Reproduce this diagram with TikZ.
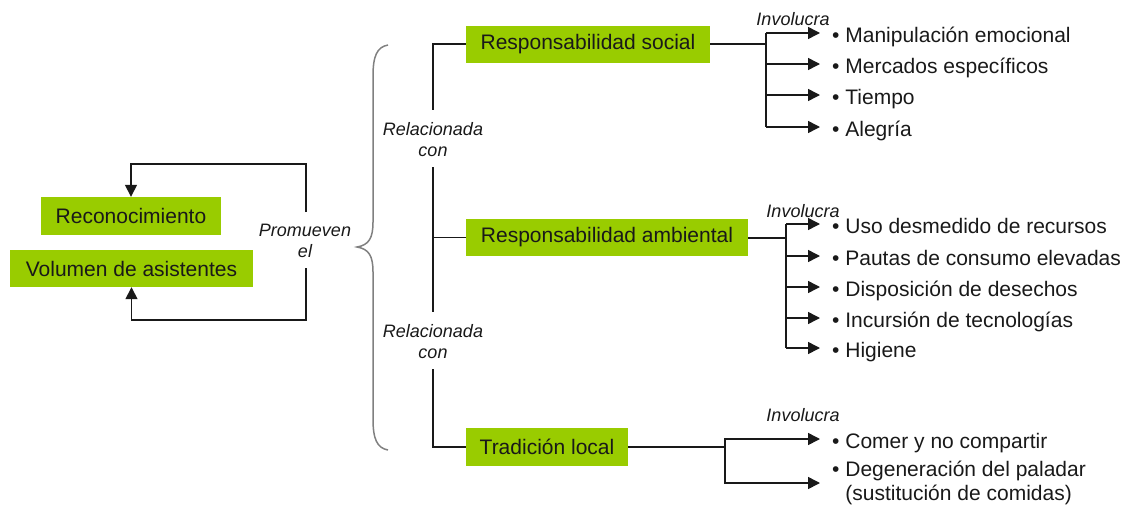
\documentclass[tikz,border=0pt]{standalone}
\usepackage{fontspec}
\setmainfont{Liberation Sans}
\usetikzlibrary{arrows.meta}
\definecolor{leaf}{RGB}{153,204,0}
\definecolor{ink}{RGB}{25,25,25}
\definecolor{bracegray}{RGB}{128,128,128}
\begin{document}
\begin{tikzpicture}[x=1pt,y=-1pt,
  concept/.style={fill=leaf, inner sep=0pt, font=\fontsize{21}{24}\selectfont, text=ink},
  item/.style={anchor=west, inner xsep=12pt, inner ysep=0pt, font=\fontsize{21}{24}\selectfont, text=ink, align=left, text height=24pt, text depth=5pt},
  tag/.style={font=\fontsize{18}{21}\selectfont\itshape, text=ink, align=center, inner sep=0pt},
  link/.style={draw=ink, line width=1.5pt},
  stem/.style={draw=ink, line width=2pt},
  feed/.style={link, -{Triangle[length=12pt,width=12pt]}},
  bracestyle/.style={draw=bracegray, line width=1.5pt}]
\useasboundingbox (0,0) rectangle (1139,506);

% concept boxes
\node[concept, minimum width=180pt, minimum height=38pt] (recon) at (131,216) {Reconocimiento};
\node[concept, minimum width=243pt, minimum height=37pt] (vol) at (131.5,268.5) {Volumen de asistentes};
\node[concept, minimum width=244pt, minimum height=37pt] (social) at (588,44) {Responsabilidad social};
\node[concept, minimum width=282pt, minimum height=37pt] (amb) at (607,237.5) {Responsabilidad ambiental};
\node[concept, minimum width=162pt, minimum height=38pt] (trad) at (547,447) {Tradición local};

% italic link labels
\node[tag] (prom) at (305,241) {Promueven\\el};
\node[tag] (rel1) at (433,139.5) {Relacionada\\con};
\node[tag] (rel2) at (433,341.5) {Relacionada\\con};
\node[tag] (inv1) at (793,19) {Involucra};
\node[tag] (inv2) at (803,211) {Involucra};
\node[tag] (inv3) at (803,415) {Involucra};

% feedback loop on the left
\coordinate (ptop) at (306,212);
\coordinate (pbot) at (306,268);
\coordinate (ltop) at (306,164);
\coordinate (lbot) at (306,320);
\draw[feed] (ptop) -- (ltop) -| (recon.north);
\draw[feed] (pbot) -- (lbot) -| (vol.south);

% curly brace
\draw[bracestyle] (388,45) .. controls (377,47) and (373,56) .. (373,76) -- (373,222)
  .. controls (373,238) and (369,245) .. (357,247)
  .. controls (369,249) and (373,256) .. (373,272) -- (373,419)
  .. controls (373,439) and (377,448) .. (388,450);

% trunk joining the three concepts
\coordinate (r1a) at (433,110);
\coordinate (r1b) at (433,167);
\coordinate (r2a) at (433,312);
\coordinate (r2b) at (433,369);
\draw[link] (social.west) -| (r1a);
\draw[link] (r1b) -- (r2a);
\draw[link] (amb.west) -- (r1b |- amb.west);
\draw[link] (r2b) |- (trad.west);

% social branch
\node[item] (s1) at (820,33) {• Manipulación emocional};
\node[item] (s2) at (820,64) {• Mercados específicos};
\node[item] (s3) at (820,95) {• Tiempo};
\node[item] (s4) at (820,127) {• Alegría};
\coordinate (sj) at (766,44);
\draw[stem] (social.east) -- (sj);
\draw[link] (sj |- s1.west) -- (sj |- s4.west);
\foreach \i in {1,...,4} \draw[feed] (sj |- s\i.west) -- (s\i.west);

% environmental branch
\node[item] (a1) at (820,224) {• Uso desmedido de recursos};
\node[item] (a2) at (820,256) {• Pautas de consumo elevadas};
\node[item] (a3) at (820,287) {• Disposición de desechos};
\node[item] (a4) at (820,318) {• Incursión de tecnologías};
\node[item] (a5) at (820,348) {• Higiene};
\coordinate (aj) at (786,237.5);
\draw[stem] (amb.east) -- (aj);
\draw[link] (aj |- a1.west) -- (aj |- a5.west);
\foreach \i in {1,...,5} \draw[feed] (aj |- a\i.west) -- (a\i.west);

% local tradition branch
\node[item] (c1) at (820,439) {• Comer y no compartir};
\node[item, text height=, text depth=] (c2) at (820,483) {• Degeneración del paladar\\\hphantom{•\ }(sustitución de comidas)};
\coordinate (tj) at (725,447);
\draw[stem] (trad.east) -- (tj);
\draw[feed] (tj) |- (c1.west);
\draw[feed] (tj) |- (c2.west);
\end{tikzpicture}
\end{document}
